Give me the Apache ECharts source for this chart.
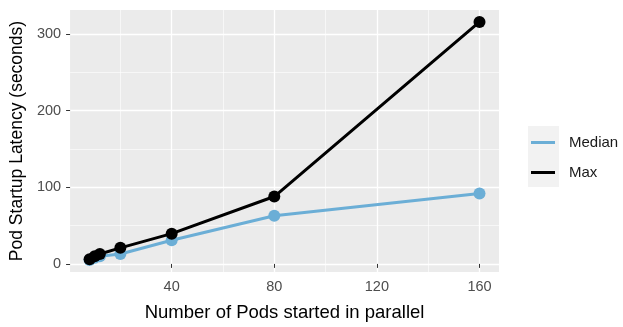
<!DOCTYPE html>
<html>
<head>
<meta charset="utf-8">
<script src="https://cdn.jsdelivr.net/npm/echarts@6/dist/echarts.min.js"></script>
<style>
  html, body { margin: 0; padding: 0; background: #ffffff; }
  #chart { width: 623px; height: 327px; }
</style>
</head>
<body>
<div id="chart"></div>
<script>
// Pods started in parallel and the resulting startup latency (seconds)
const pods = [8, 10, 12, 20, 40, 80, 160];
const medianLatency = [5, 8, 10, 13, 31, 63, 92];
const maxLatency = [6, 10, 13, 21, 39.5, 88, 316];

const xMajorTicks = [40, 80, 120, 160];
const xMinorTicks = [20, 60, 100, 140];
const yMajorTicks = [0, 100, 200, 300];
const yMinorTicks = [50, 150, 250];

const seriesNames = ['Median', 'Max'];

// 5% padding around the data range on each side
function expand(values) {
  const lo = Math.min.apply(null, values);
  const hi = Math.max.apply(null, values);
  const pad = (hi - lo) * 0.05;
  return [lo - pad, hi + pad];
}
const xRange = expand(pods);
const yRange = expand(medianLatency.concat(maxLatency));

const FONT = '"Liberation Sans", Arial, sans-serif';
const GRID = { left: 67, right: 124, top: 10, bottom: 52 };

const chart = echarts.init(document.getElementById('chart'), null, { renderer: 'canvas' });

function pairs(xs, ys) { return xs.map((x, i) => [x, ys[i]]); }

// one legend block per key, stacked inside a shared key background
function legendEntry(name, top) {
  return {
    orient: 'vertical',
    left: 531, top: top,
    itemWidth: 24, itemHeight: 3,
    padding: 0,
    data: [{ name: name, icon: 'rect' }],
    textStyle: { fontFamily: FONT, fontSize: 15, color: '#1A1A1A', padding: [0, 0, 0, 9] },
    selectedMode: false
  };
}

chart.setOption({
  animation: false,
  backgroundColor: '#ffffff',
  grid: Object.assign({ show: true, backgroundColor: '#EBEBEB', borderWidth: 0 }, GRID),
  graphic: [{
    type: 'rect',
    left: 528, top: 126,
    shape: { width: 31, height: 61 },
    style: { fill: '#F2F2F2' },
    z: -1
  }],
  legend: [legendEntry(seriesNames[0], 135), legendEntry(seriesNames[1], 165)],
  xAxis: [{
    type: 'value',
    min: xRange[0], max: xRange[1],
    name: 'Number of Pods started in parallel',
    nameLocation: 'middle', nameGap: 31,
    nameTextStyle: { fontFamily: FONT, fontSize: 18.5, color: '#000000' },
    axisLine: { show: false },
    axisTick: { show: true, length: 4, lineStyle: { color: '#333333', width: 1 }, customValues: xMajorTicks },
    axisLabel: { fontFamily: FONT, fontSize: 14.5, color: '#4D4D4D', margin: 7, customValues: xMajorTicks },
    splitLine: { show: true, lineStyle: { color: '#FFFFFF', width: 1.3 } }
  }, {
    type: 'value',
    min: xRange[0], max: xRange[1],
    axisLine: { show: false },
    axisTick: { show: false, customValues: xMinorTicks },
    axisLabel: { show: false, customValues: xMinorTicks },
    splitLine: { show: true, lineStyle: { color: '#FFFFFF', width: 0.6 } }
  }],
  yAxis: [{
    type: 'value',
    min: yRange[0], max: yRange[1],
    name: 'Pod Startup Latency (seconds)',
    nameLocation: 'middle', nameGap: 40,
    nameTextStyle: { fontFamily: FONT, fontSize: 17.5, color: '#000000' },
    axisLine: { show: false },
    axisTick: { show: true, length: 4, lineStyle: { color: '#333333', width: 1 }, customValues: yMajorTicks },
    axisLabel: { fontFamily: FONT, fontSize: 14.5, color: '#4D4D4D', margin: 9, customValues: yMajorTicks },
    splitLine: { show: true, lineStyle: { color: '#FFFFFF', width: 1.3 } }
  }, {
    type: 'value',
    min: yRange[0], max: yRange[1],
    axisLine: { show: false },
    axisTick: { show: false, customValues: yMinorTicks },
    axisLabel: { show: false, customValues: yMinorTicks },
    splitLine: { show: true, lineStyle: { color: '#FFFFFF', width: 0.6 } }
  }],
  series: [{
    name: 'Median',
    type: 'line',
    xAxisIndex: 0, yAxisIndex: 0,
    data: pairs(pods, medianLatency),
    color: '#6BAED6',
    lineStyle: { width: 3, color: '#6BAED6' },
    symbol: 'circle', symbolSize: 12,
    itemStyle: { color: '#6BAED6' },
    z: 3
  }, {
    name: 'Max',
    type: 'line',
    xAxisIndex: 0, yAxisIndex: 0,
    data: pairs(pods, maxLatency),
    color: '#000000',
    lineStyle: { width: 3, color: '#000000' },
    symbol: 'circle', symbolSize: 12,
    itemStyle: { color: '#000000' },
    z: 4
  }]
});
</script>
</body>
</html>
